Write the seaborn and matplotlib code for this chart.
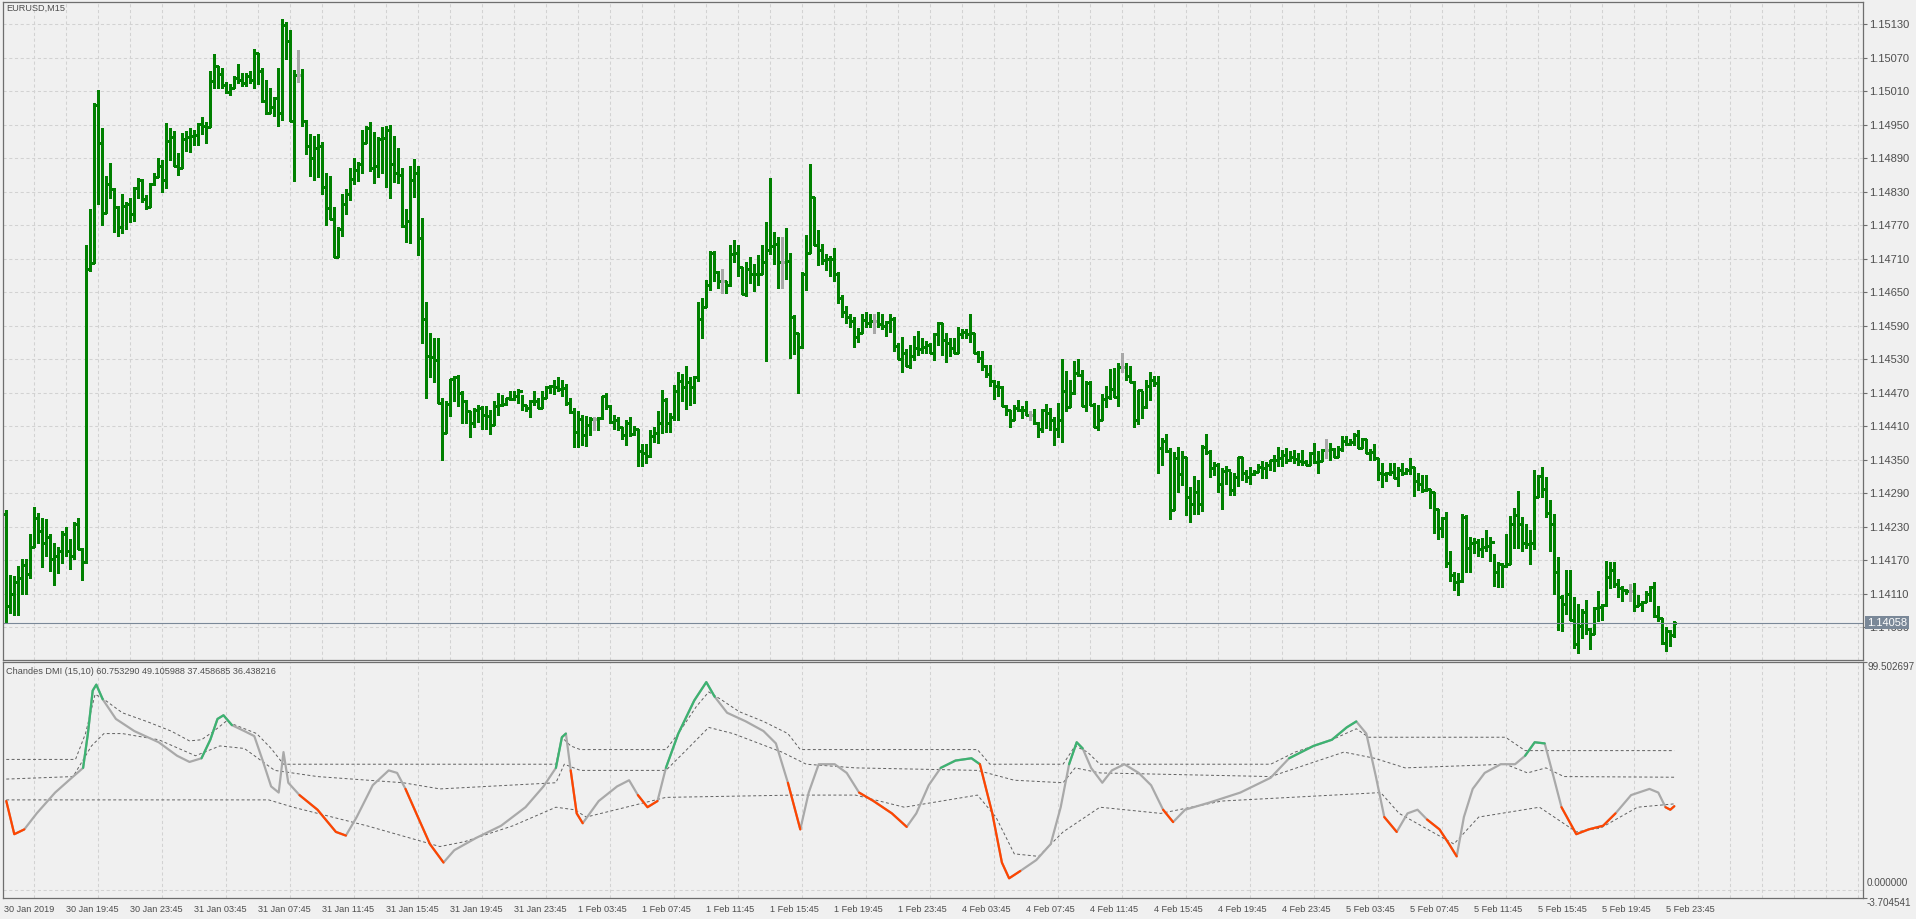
import matplotlib
matplotlib.use("Agg")
import matplotlib.pyplot as plt
import matplotlib.transforms as mtransforms
import numpy as np
import pandas as pd
import seaborn as sns

# EURUSD M15 bars, values in pips above 1.14000
BASE = 1.14000
PIP = 0.0001
first_open = 25.2

highs = [
    26.0, 14.4, 14.1, 15.9, 17.2, 17.2, 21.6, 26.5, 25.4, 24.5,
    24.4, 21.6, 20.1, 19.3, 22.2, 23.0, 20.7, 23.8, 24.6, 19.2,
    73.5, 79.8, 98.8, 101.2, 94.3, 85.8, 88.1, 83.6, 80.4, 82.6,
    81.2, 81.9, 83.9, 85.5, 85.3, 82.4, 84.5, 86.3, 89.0, 88.7,
    95.2, 94.3, 93.8, 89.9, 93.5, 93.8, 94.3, 94.1, 95.3, 96.3,
    95.4, 104.5, 107.7, 105.4, 105.2, 102.6, 102.2, 103.7, 105.8, 104.3,
    104.3, 104.5, 108.5, 107.9, 105.2, 103.0, 101.5, 100.0, 105.1, 113.9,
    113.4, 112.0, 104.7, 108.3, 104.9, 95.8, 93.3, 93.0, 93.3, 91.8,
    86.4, 85.8, 80.2, 76.6, 82.6, 83.4, 87.3, 89.0, 88.3, 94.1,
    94.7, 95.4, 93.6, 92.8, 94.5, 94.7, 95.0, 93.0, 90.8, 87.3,
    79.8, 87.5, 88.8, 87.5, 78.2, 63.2, 57.7, 56.7, 56.7, 46.1,
    45.4, 49.5, 49.9, 50.1, 47.3, 45.7, 43.6, 44.3, 44.7, 44.5,
    44.6, 43.8, 45.4, 47.0, 46.6, 46.1, 47.3, 47.2, 47.6, 46.6,
    44.8, 45.7, 47.3, 46.0, 47.2, 48.2, 48.3, 49.2, 49.7, 49.2,
    48.6, 46.0, 44.3, 43.6, 43.0, 42.8, 42.7, 42.7, 42.6, 46.4,
    47.0, 44.8, 43.0, 42.6, 40.8, 42.0, 42.7, 41.0, 40.4, 37.8,
    37.8, 40.2, 40.8, 43.6, 47.5, 46.1, 43.4, 48.3, 50.7, 50.3,
    51.7, 49.8, 49.9, 63.3, 64.0, 67.1, 72.4, 72.4, 68.8, 69.1,
    67.0, 73.4, 74.3, 73.4, 69.4, 70.3, 71.2, 70.0, 71.6, 73.4,
    77.6, 85.4, 75.8, 74.8, 74.8, 76.4, 71.9, 60.9, 57.7, 68.5,
    75.2, 87.9, 82.0, 76.1, 73.6, 71.8, 71.5, 72.8, 68.6, 64.5,
    62.5, 61.0, 60.5, 58.6, 61.0, 61.5, 61.0, 61.0, 61.5, 61.0,
    59.8, 61.0, 60.5, 55.9, 57.0, 54.8, 55.6, 57.1, 58.0, 56.8,
    56.2, 55.8, 57.7, 59.6, 59.5, 57.7, 56.8, 56.8, 58.8, 58.4,
    58.4, 61.0, 57.7, 54.4, 54.4, 52.0, 52.0, 49.3, 49.0, 48.1,
    44.8, 43.9, 44.8, 45.7, 44.6, 45.4, 43.6, 44.0, 41.8, 44.0,
    45.0, 44.2, 42.7, 45.1, 53.0, 50.8, 49.3, 52.6, 53.0, 51.1,
    49.0, 49.0, 45.1, 44.8, 46.8, 48.1, 51.2, 51.4, 52.3, 54.0,
    52.3, 51.8, 49.0, 47.5, 47.2, 49.2, 50.6, 50.0, 50.0, 38.8,
    39.6, 37.0, 36.4, 37.3, 36.6, 35.5, 30.1, 32.0, 31.4, 37.6,
    39.6, 36.7, 34.6, 34.3, 33.4, 33.8, 32.8, 32.6, 35.5, 35.5,
    33.1, 33.7, 33.2, 34.2, 34.8, 34.6, 35.0, 35.8, 37.2, 36.7,
    37.0, 36.6, 36.7, 36.1, 36.7, 35.0, 36.4, 38.0, 36.6, 36.8,
    38.6, 37.9, 37.0, 37.4, 39.2, 39.2, 38.6, 39.8, 40.2, 38.8,
    38.6, 36.8, 37.8, 35.2, 34.3, 32.8, 34.3, 34.3, 33.6, 34.3,
    33.4, 35.2, 33.7, 32.5, 32.2, 32.2, 29.8, 29.2, 26.2, 24.7,
    25.6, 18.7, 14.8, 14.6, 25.2, 25.0, 21.1, 21.0, 20.8, 21.0,
    22.3, 21.1, 18.1, 16.6, 16.4, 21.7, 24.8, 26.4, 29.4, 24.7,
    23.4, 22.4, 33.2, 32.2, 33.6, 31.8, 27.7, 25.2, 17.6, 10.8,
    15.2, 15.2, 10.3, 9.2, 8.2, 9.8, 4.8, 8.5, 11.4, 9.2,
    16.8, 16.6, 16.6, 13.6, 12.4, 11.8, 12.7, 12.8, 10.8, 9.7,
    11.4, 12.4, 13.0, 8.8, 6.7, 5.0, 4.4, 6.1,
]

lows = [
    5.8, 7.5, 7.1, 7.1, 11.0, 11.0, 13.7, 19.3, 20.1, 15.7,
    17.8, 15.0, 12.5, 14.7, 16.5, 17.8, 15.4, 17.1, 18.9, 13.5,
    16.5, 68.7, 70.2, 80.7, 77.0, 79.2, 81.9, 75.7, 75.1, 75.5,
    76.2, 77.5, 77.7, 81.9, 81.1, 79.8, 80.2, 84.1, 85.6, 83.0,
    83.6, 88.7, 87.5, 86.0, 87.3, 90.2, 90.0, 91.3, 91.3, 93.3,
    91.7, 94.5, 101.6, 101.6, 101.5, 100.6, 100.3, 101.5, 102.4, 101.9,
    101.9, 102.4, 101.6, 102.2, 99.1, 96.8, 97.0, 96.6, 94.7, 95.8,
    106.8, 95.6, 84.9, 102.6, 94.7, 89.8, 85.8, 85.0, 85.6, 82.6,
    77.0, 78.1, 71.2, 71.3, 75.1, 79.0, 81.5, 84.3, 84.9, 86.4,
    91.7, 86.6, 84.5, 85.6, 86.4, 83.8, 81.9, 84.7, 84.5, 76.6,
    74.0, 73.7, 82.0, 71.7, 55.9, 46.1, 49.8, 48.9, 45.1, 35.0,
    39.8, 42.8, 45.4, 44.6, 41.6, 41.6, 39.1, 40.8, 41.8, 40.4,
    40.4, 39.5, 41.2, 43.0, 44.5, 44.8, 45.7, 45.7, 45.1, 43.9,
    43.6, 42.7, 44.8, 44.2, 44.3, 46.0, 46.9, 46.7, 47.3, 46.4,
    44.8, 43.4, 37.3, 37.3, 37.6, 37.4, 39.4, 40.2, 40.2, 42.2,
    44.0, 41.6, 40.4, 40.3, 38.6, 37.6, 39.2, 39.4, 33.8, 33.8,
    34.3, 35.5, 38.2, 38.0, 39.7, 40.0, 40.0, 42.0, 42.0, 45.5,
    44.0, 44.8, 45.1, 49.1, 56.7, 62.3, 65.3, 66.9, 65.7, 64.8,
    64.8, 66.0, 70.4, 67.9, 64.6, 64.2, 66.7, 65.1, 66.3, 68.2,
    52.7, 71.8, 70.0, 65.7, 65.7, 67.4, 53.1, 53.9, 47.0, 54.9,
    65.4, 71.9, 73.4, 69.8, 70.1, 69.0, 67.9, 66.9, 63.1, 60.5,
    59.5, 58.8, 55.2, 56.0, 57.7, 58.8, 58.8, 57.7, 58.8, 58.4,
    57.1, 57.8, 54.4, 53.0, 50.6, 51.7, 51.4, 52.9, 53.8, 54.1,
    54.1, 54.0, 52.9, 55.6, 53.8, 52.4, 53.6, 54.1, 54.1, 56.8,
    56.8, 56.0, 54.1, 52.4, 51.1, 49.8, 48.2, 45.8, 46.4, 44.5,
    43.0, 40.9, 42.1, 43.6, 42.4, 42.9, 42.1, 41.4, 39.1, 40.0,
    40.6, 40.3, 37.6, 39.1, 38.2, 43.6, 44.4, 46.8, 49.9, 44.5,
    43.6, 44.8, 40.8, 40.2, 42.1, 44.4, 45.8, 46.2, 44.5, 50.6,
    49.3, 48.8, 40.9, 41.4, 42.4, 44.2, 45.6, 48.1, 32.6, 34.0,
    36.4, 24.4, 26.0, 29.2, 30.4, 25.0, 23.8, 25.2, 25.3, 25.8,
    36.0, 31.8, 32.2, 29.2, 26.2, 30.7, 28.6, 28.6, 30.2, 31.3,
    31.0, 30.7, 32.2, 32.8, 31.6, 31.6, 33.1, 33.0, 33.8, 33.8,
    34.4, 34.8, 34.4, 34.0, 34.0, 34.0, 34.0, 34.3, 32.5, 34.8,
    35.2, 34.9, 35.5, 35.5, 36.6, 37.6, 37.6, 37.6, 37.0, 37.0,
    36.1, 35.0, 34.9, 31.3, 30.1, 31.2, 32.2, 31.6, 30.2, 32.2,
    32.4, 32.4, 28.4, 29.6, 29.2, 29.4, 26.4, 21.8, 20.8, 21.1,
    15.8, 13.2, 11.6, 10.8, 13.0, 14.8, 14.8, 18.2, 17.8, 17.6,
    18.7, 16.9, 12.4, 12.1, 12.1, 15.8, 16.3, 19.2, 19.2, 18.6,
    19.2, 16.3, 19.0, 28.2, 28.3, 24.7, 18.6, 11.0, 4.4, 4.3,
    7.4, 6.2, 1.3, 0.4, 3.1, 3.7, 1.0, 3.7, 6.1, 6.2,
    8.8, 12.0, 12.1, 10.4, 9.7, 10.9, 9.6, 7.9, 8.8, 7.9,
    9.4, 9.7, 6.8, 6.1, 2.0, 0.7, 1.6, 3.2,
]

closes = [
    8.8, 11.0, 13.0, 13.7, 16.1, 14.5, 19.3, 24.6, 22.2, 20.0,
    21.2, 17.1, 17.7, 18.6, 21.6, 18.7, 17.7, 23.4, 19.0, 16.6,
    69.1, 70.2, 98.5, 91.7, 79.2, 84.3, 83.4, 80.2, 76.6, 80.4,
    80.7, 78.9, 83.6, 85.0, 81.7, 80.2, 84.4, 85.6, 87.5, 85.0,
    92.1, 92.8, 87.5, 87.3, 92.4, 92.8, 93.0, 93.1, 95.1, 94.7,
    94.5, 102.8, 105.4, 104.1, 102.0, 100.9, 101.6, 103.4, 103.0, 102.4,
    103.7, 103.0, 107.9, 104.5, 99.2, 97.1, 98.1, 99.8, 97.0, 112.8,
    109.9, 95.6, 103.9, 103.9, 95.6, 91.1, 89.0, 90.8, 91.1, 83.8,
    80.0, 78.1, 71.3, 76.2, 80.7, 82.6, 85.3, 86.8, 87.9, 91.7,
    94.3, 87.2, 87.5, 92.4, 92.6, 94.0, 87.9, 86.4, 86.0, 76.8,
    77.7, 85.0, 86.4, 74.7, 60.1, 53.5, 53.3, 52.9, 45.2, 39.8,
    44.9, 49.5, 49.8, 46.9, 45.5, 43.6, 41.6, 43.9, 44.3, 43.0,
    42.8, 41.2, 44.6, 44.8, 45.0, 46.1, 45.9, 46.4, 47.2, 44.8,
    44.2, 45.5, 45.4, 44.3, 46.1, 47.9, 48.1, 48.0, 47.6, 47.8,
    45.1, 43.5, 40.0, 42.2, 39.4, 41.2, 42.2, 42.2, 42.4, 46.4,
    44.5, 41.8, 42.0, 40.8, 39.4, 41.6, 39.6, 40.4, 36.6, 36.2,
    35.6, 39.2, 39.7, 41.6, 45.7, 41.5, 42.7, 47.3, 49.1, 47.9,
    48.8, 47.9, 49.7, 60.1, 62.3, 66.3, 72.0, 68.5, 66.9, 66.9,
    66.3, 71.8, 71.9, 69.4, 64.6, 69.2, 68.2, 68.3, 68.2, 70.3,
    72.6, 73.2, 73.6, 70.4, 70.4, 70.6, 60.5, 57.7, 55.2, 68.2,
    72.0, 82.0, 73.4, 72.5, 70.7, 70.9, 71.0, 68.2, 63.9, 61.5,
    60.5, 59.8, 57.0, 57.7, 60.0, 59.4, 59.8, 59.8, 59.2, 59.0,
    59.6, 60.2, 55.4, 53.0, 54.0, 51.8, 53.5, 55.0, 54.8, 55.1,
    55.6, 54.1, 57.4, 59.4, 56.4, 55.9, 55.0, 54.1, 57.4, 57.8,
    57.4, 57.7, 54.1, 53.2, 51.7, 50.4, 49.0, 48.2, 48.0, 44.5,
    43.9, 42.1, 44.2, 43.9, 43.8, 43.0, 43.0, 41.5, 40.4, 43.9,
    43.4, 42.1, 40.4, 42.1, 47.2, 44.4, 46.9, 50.5, 50.2, 44.6,
    48.7, 44.8, 40.9, 42.1, 45.8, 46.2, 47.6, 46.2, 51.6, 51.6,
    50.0, 48.8, 42.0, 47.4, 44.4, 48.2, 49.2, 48.7, 37.0, 38.4,
    36.6, 26.0, 35.2, 32.4, 35.4, 28.3, 27.0, 29.2, 27.0, 37.3,
    36.4, 33.4, 34.0, 30.7, 33.0, 33.1, 29.5, 31.9, 35.4, 32.6,
    31.8, 32.4, 32.8, 33.7, 33.4, 34.0, 34.9, 35.0, 35.2, 35.8,
    35.0, 35.4, 35.1, 34.8, 34.6, 34.0, 36.2, 34.6, 34.8, 36.7,
    36.7, 36.8, 35.5, 36.8, 38.4, 37.8, 38.2, 39.4, 37.0, 38.6,
    36.2, 36.4, 35.2, 32.6, 32.4, 32.5, 32.7, 31.6, 33.2, 32.6,
    33.1, 33.6, 31.2, 30.7, 29.6, 29.8, 29.2, 26.2, 22.8, 24.6,
    16.4, 14.4, 13.0, 13.2, 24.7, 19.2, 20.0, 20.2, 19.0, 19.3,
    19.5, 20.2, 14.8, 16.2, 16.0, 16.3, 23.5, 25.0, 23.4, 20.0,
    19.9, 20.0, 28.2, 32.0, 29.8, 25.4, 23.5, 14.8, 10.3, 9.2,
    11.0, 6.2, 1.9, 5.2, 7.6, 4.6, 3.7, 8.4, 8.5, 9.0,
    14.0, 15.2, 12.7, 12.0, 11.6, 11.4, 11.4, 8.8, 9.1, 9.4,
    10.9, 12.2, 7.0, 6.7, 2.2, 4.3, 3.6, 5.8,
]

price_labels = ["1.15130", "1.15070", "1.15010", "1.14950", "1.14890", "1.14830",
                "1.14770", "1.14710", "1.14650", "1.14590", "1.14530", "1.14470",
                "1.14410", "1.14350", "1.14290", "1.14230", "1.14170", "1.14110",
                "1.14050"]
last_price = "1.14058"

time_labels = ["30 Jan 2019", "30 Jan 19:45", "30 Jan 23:45", "31 Jan 03:45",
               "31 Jan 07:45", "31 Jan 11:45", "31 Jan 15:45", "31 Jan 19:45",
               "31 Jan 23:45", "1 Feb 03:45", "1 Feb 07:45", "1 Feb 11:45",
               "1 Feb 15:45", "1 Feb 19:45", "1 Feb 23:45", "4 Feb 03:45",
               "4 Feb 07:45", "4 Feb 11:45", "4 Feb 15:45", "4 Feb 19:45",
               "4 Feb 23:45", "5 Feb 03:45", "5 Feb 07:45", "5 Feb 11:45",
               "5 Feb 15:45", "5 Feb 19:45", "5 Feb 23:45"]

# Chandes DMI, points read at bar positions
dmi_bar = [0, 2, 4.5, 7.6, 12.2, 16.7, 19.2, 20.4, 21.6, 22.5, 24.1, 27.4, 32, 38.1,
           42.7, 45.8, 48.8, 51, 52.8, 54.3, 56.4, 59.5, 62, 64.1, 66.2, 68.1, 69.3,
           70.5, 73.3, 77.8, 82.4, 84.9, 87.6, 91.6, 95.6, 97.7, 99.8, 102.9, 105.9,
           109.3, 112, 117.5, 123.7, 129.8, 134.3, 137.4, 138.9, 139.9, 141.1, 142.6,
           144.1, 148.1, 152.7, 155.7, 157.9, 160.3, 162.8, 164.9, 168, 172, 175,
           177.1, 180.2, 184.8, 189.3, 192.4, 195.4, 198.5, 200.6, 203.1, 207.1,
           210.1, 213.2, 216.8, 221.4, 225.1, 227.5, 230.6, 233.6, 237.3, 241.3,
           243.4, 246.5, 248.9, 250.7, 253.5, 257.5, 261.1, 263.6, 265.7, 267.6,
           269.1, 271.2, 274, 276.4, 279.5, 283.1, 286.2, 289.2, 291.7, 294.7, 300.9,
           308.5, 316.1, 320.7, 326.8, 331.4, 335.1, 337.5, 340, 342.4, 344.5, 347.6,
           350.3, 352.8, 355.2, 358.3, 360.7, 362.6, 364.4, 366.6, 369.6, 373.6,
           377.2, 379.7, 382.1, 384.6, 386.4, 388.8, 392.5, 395.6, 399.2, 402.3,
           406.2, 410.8, 413, 414.8, 416, 417]
dmi_val = [38.7, 24.2, 26.3, 33.3, 42.4, 49.4, 53.2, 68.2, 87, 89.6, 83.2, 74.6, 69.3,
           64.4, 58.5, 55.8, 57.4, 65.5, 74.6, 76.2, 71.9, 69.3, 67.1, 56.4, 45.1,
           42.4, 60.1, 46.7, 41.3, 34.9, 25.2, 23.6, 31.7, 45.6, 52.1, 51, 44, 31.7,
           19.9, 11.8, 17.2, 22.6, 27.9, 36, 45.1, 53.2, 66.6, 68.2, 52.1, 33.3, 29,
           38.7, 45.1, 47.8, 41.3, 36, 38.7, 53.2, 68.2, 82.7, 90.7, 84.3, 77.3, 73.6,
           69.3, 63.9, 46.7, 26.3, 42.4, 54.8, 54.8, 51, 42.4, 38.7, 33.3, 27.4, 33.3,
           45.6, 53.2, 56.4, 57.4, 54.8, 33.3, 11.8, 4.9, 8.1, 12.9, 19.9, 36, 54.8,
           64.4, 61.7, 53.2, 46.7, 52.1, 54.8, 51, 45.6, 34.9, 29.5, 34.9, 38.1, 42.4,
           48.9, 57.4, 62.8, 65.5, 70.9, 73.5, 68.2, 49.4, 31.7, 25.2, 33.3, 34.9,
           30.6, 26.3, 19.9, 14.5, 31.7, 44, 51, 54.8, 54.8, 58.5, 64.4, 63.9, 52.1,
           36, 24.2, 26.3, 27.9, 33.3, 41.3, 44, 42.4, 36, 34.9, 36.44]

# stretches where the DMI line is drawn in colour: (first bar, last bar, state)
trend_runs = [(0, 4.5, "down"), (19.2, 24.1, "up"), (48.8, 56.4, "up"),
              (73.3, 84.9, "down"), (99.8, 109.3, "down"), (137.4, 139.9, "up"),
              (141.1, 144.1, "down"), (157.9, 162.8, "down"), (164.9, 177.1, "up"),
              (195.4, 198.5, "down"), (213.2, 225.1, "down"), (233.6, 243.4, "up"),
              (243.4, 253.5, "down"), (265.7, 269.1, "up"), (289.2, 291.7, "down"),
              (320.7, 337.5, "up"), (344.5, 347.6, "down"), (355.2, 362.6, "down"),
              (379.7, 384.6, "up"), (388.8, 402.3, "down"), (414.8, 417, "down")]

# floating levels (dashed), points read at bar positions
upper_bar = [0, 17.3, 19.8, 22.2, 24.4, 29, 35.1, 41.2, 45.8, 48.8, 51.9, 54.9, 58,
             62.6, 66.2, 69.3, 137.4, 138.9, 141.1, 143.5, 164.9, 168, 172.5, 175.6,
             178.6, 183.2, 189.3, 195.4, 198.5, 242.8, 245.9, 264.2, 267.2, 270.3,
             273.4, 316.1, 322.2, 331.4, 337.5, 340.6, 374.8, 379.7, 417]
upper_val = [56.9, 56.9, 68.2, 85.4, 83.2, 77.3, 73.5, 69.3, 65, 65.5, 69.3, 73.5, 71.4,
             68.2, 61.7, 54.8, 54.8, 66.6, 62.8, 61.2, 61.2, 68.2, 80, 86.4, 83.2, 77.8,
             73.5, 68.2, 61.2, 61.2, 54.8, 54.8, 62.8, 60.1, 54.8, 54.8, 60.1, 65.5,
             70.3, 66.6, 66.6, 60.75, 60.75]
mid_bar = [0, 16.7, 21.3, 24.4, 29, 38.1, 47.3, 53.4, 59.5, 67.1, 77.8, 99.2, 108.4,
           137.4, 139.5, 143.5, 164.9, 169.5, 175.6, 181.7, 193.9, 200, 212.3, 242.8,
           252, 264.2, 267.2, 273.4, 316.1, 334.4, 342.1, 349.7, 374.8, 380.3, 384.9,
           389.4, 417]
mid_val = [48.3, 49.4, 62.8, 68.2, 68.2, 65.5, 58.5, 62.8, 61.7, 52.1, 49.4, 46.7, 44,
           46.7, 54.8, 52.1, 52.1, 60.1, 70.9, 68.2, 60.1, 54.8, 53.2, 52.1, 47.8, 46.7,
           53.2, 51, 49.4, 60.1, 57.4, 53.2, 54.8, 51, 53.2, 49.4, 49.11]
lower_bar = [0, 65.6, 71.7, 90.1, 108.4, 114.5, 126.7, 137.4, 142, 145, 164.9, 197,
             212.3, 224.5, 242.8, 247.4, 252, 258.1, 264.2, 273.4, 288.6, 303.9, 343.6,
             348.2, 361.9, 368.1, 383.3, 392.5, 398.6, 407.8, 417]
lower_val = [39.2, 39.2, 36, 27.9, 18.8, 20.9, 27.9, 36, 34.9, 31.7, 40.3, 41.3, 41.3,
             36, 41.3, 31.7, 15.6, 14.5, 25.2, 36, 33.3, 38.7, 42.4, 33.3, 19.9, 31.7, 36,
             25.2, 26.9, 36, 37.46]

dmi_header = "Chandes DMI (15,10) 60.753290 49.105988 37.458685 36.438216"
dmi_top = 99.502697
dmi_bottom = -3.704541

# ---- style ----
W, H = 1916, 919
BG = "#f0f0f0"
FRAME = "#6e6e6e"
GRID = "#d2d2d2"
TXT = "#4e4e4e"
BAR_GREEN = "#008000"
DOJI = "#a8a8a8"
LINE_GRAY = "#a9a9a9"
UP = "#3cb371"
DOWN = "#ff4500"
BAND = "#606060"
FS = 6.6       # header / time labels
FS_AX = 8.0    # price scale labels
FS_IND = 7.1   # indicator scale labels

sns.set_style("white", {"axes.facecolor": BG, "figure.facecolor": BG})
plt.rcParams["font.family"] = ["Liberation Sans", "DejaVu Sans"]

bars = pd.DataFrame({"high": highs, "low": lows, "close": closes})
bars["open"] = [first_open] + closes[:-1]
px = BASE + bars * PIP
colors = np.where(bars["open"] == bars["close"], DOJI, BAR_GREEN)
xb = np.arange(len(bars))

fig = plt.figure(figsize=(W / 100, H / 100), dpi=100)


def rect(x0, y0, x1, y1):
    return [x0 / W, 1 - y1 / H, (x1 - x0) / W, (y1 - y0) / H]


ax1 = fig.add_axes(rect(3, 2, 1863, 660))
ax2 = fig.add_axes(rect(3, 662, 1863, 898))

xlim = ((3 - 6.3) / 4, (1863 - 6.3) / 4)
grid_bars = np.arange(7, 465, 8)
label_bars = [xlim[0] + 0.2] + list(range(15, 416, 16))

for ax in (ax1, ax2):
    ax.set_xlim(*xlim)
    ax.set_facecolor(BG)
    ax.set_axisbelow(True)
    for s in ax.spines.values():
        s.set_color(FRAME)
        s.set_linewidth(0.9)
    ax.set_xticks(grid_bars, minor=True)
    ax.grid(which="minor", axis="x", color=GRID, lw=0.75, linestyle=(0, (3, 2.5)))
    ax.tick_params(which="minor", length=0)

# ---- price panel ----
ax1.vlines(xb, px["low"], px["high"], colors=colors, lw=0.8, antialiased=False)
ax1.hlines(px["open"], xb - 0.5, xb, colors=colors, lw=0.8, antialiased=False)
ax1.hlines(px["close"], xb, xb + 0.5, colors=colors, lw=0.8, antialiased=False)

ax1.set_ylim(BASE + (5 - 33 / 5.583) * PIP, BASE + (5 + 625 / 5.583) * PIP)
ax1.yaxis.tick_right()
ax1.set_yticks([float(s) for s in price_labels])
ax1.set_yticklabels(price_labels)
ax1.set_xticks([])
ax1.grid(which="major", axis="y", color=GRID, lw=0.75, linestyle=(0, (3, 2.5)))
ax1.tick_params(axis="y", which="major", length=3, width=0.8, color=FRAME,
                labelsize=FS_AX, labelcolor=TXT, pad=1.5)

lp = float(last_price)
ax1.axhline(lp, color="#7a8898", lw=0.8)
blend1 = mtransforms.blended_transform_factory(fig.transFigure, ax1.transData)
ax1.text(1867 / W, lp, last_price, transform=blend1, ha="left", va="center",
         fontsize=FS_AX, color="white",
         bbox=dict(boxstyle="square,pad=0.15", fc="#7a8898", ec="none"))
fig.text(6 / W, 1 - 8.5 / H, "EURUSD,M15", fontsize=FS, color=TXT, va="center")

# ---- indicator panel ----
ax2.set_ylim(dmi_bottom, dmi_top)
ax2.axhline(0, color=GRID, lw=0.75, linestyle=(0, (3, 2.5)), zorder=0.5)
for bx, by in ((upper_bar, upper_val), (mid_bar, mid_val), (lower_bar, lower_val)):
    sns.lineplot(x=bx, y=by, ax=ax2, color=BAND, lw=0.7, linestyle=(0, (3, 2.5)),
                 sort=False, estimator=None)

dmi = pd.DataFrame({"bar": dmi_bar, "val": dmi_val})
sns.lineplot(data=dmi, x="bar", y="val", ax=ax2, color=LINE_GRAY, lw=1.6,
             sort=False, estimator=None)
for start, end, state in trend_runs:
    seg = dmi[(dmi["bar"] >= start) & (dmi["bar"] <= end)]
    sns.lineplot(data=seg, x="bar", y="val", ax=ax2, color=UP if state == "up" else DOWN,
                 lw=1.6, sort=False, estimator=None)

ax2.set_xlabel("")
ax2.set_ylabel("")
ax1.set_ylabel("")
ax2.yaxis.tick_right()
ax2.set_yticks([dmi_bottom, dmi_top])
ax2.set_yticklabels([])
ax2.tick_params(axis="y", length=3, width=0.8, color=FRAME)
blend2 = mtransforms.blended_transform_factory(fig.transFigure, ax2.transData)
ax2.text(1867 / W, dmi_top, f"{dmi_top:.6f}", transform=blend2, ha="left", va="top",
         fontsize=FS_IND, color=TXT)
ax2.text(1867 / W, 0.6, f"{0:.6f}", transform=blend2, ha="left", va="bottom",
         fontsize=FS_IND, color=TXT)
ax2.text(1867 / W, dmi_bottom, f"{dmi_bottom:.6f}", transform=blend2, ha="left",
         va="top", fontsize=FS_IND, color=TXT)
fig.text(6 / W, 1 - 672 / H, dmi_header, fontsize=FS, color=TXT, va="center")

ax2.set_xticks(label_bars)
ax2.set_xticklabels(time_labels)
ax2.tick_params(axis="x", which="major", length=4.3, width=0.8, color=FRAME,
                labelsize=FS, labelcolor=TXT, pad=1)
for lab in ax2.get_xticklabels():
    lab.set_horizontalalignment("left")

fig.savefig("out.png", dpi=100, facecolor=BG)
